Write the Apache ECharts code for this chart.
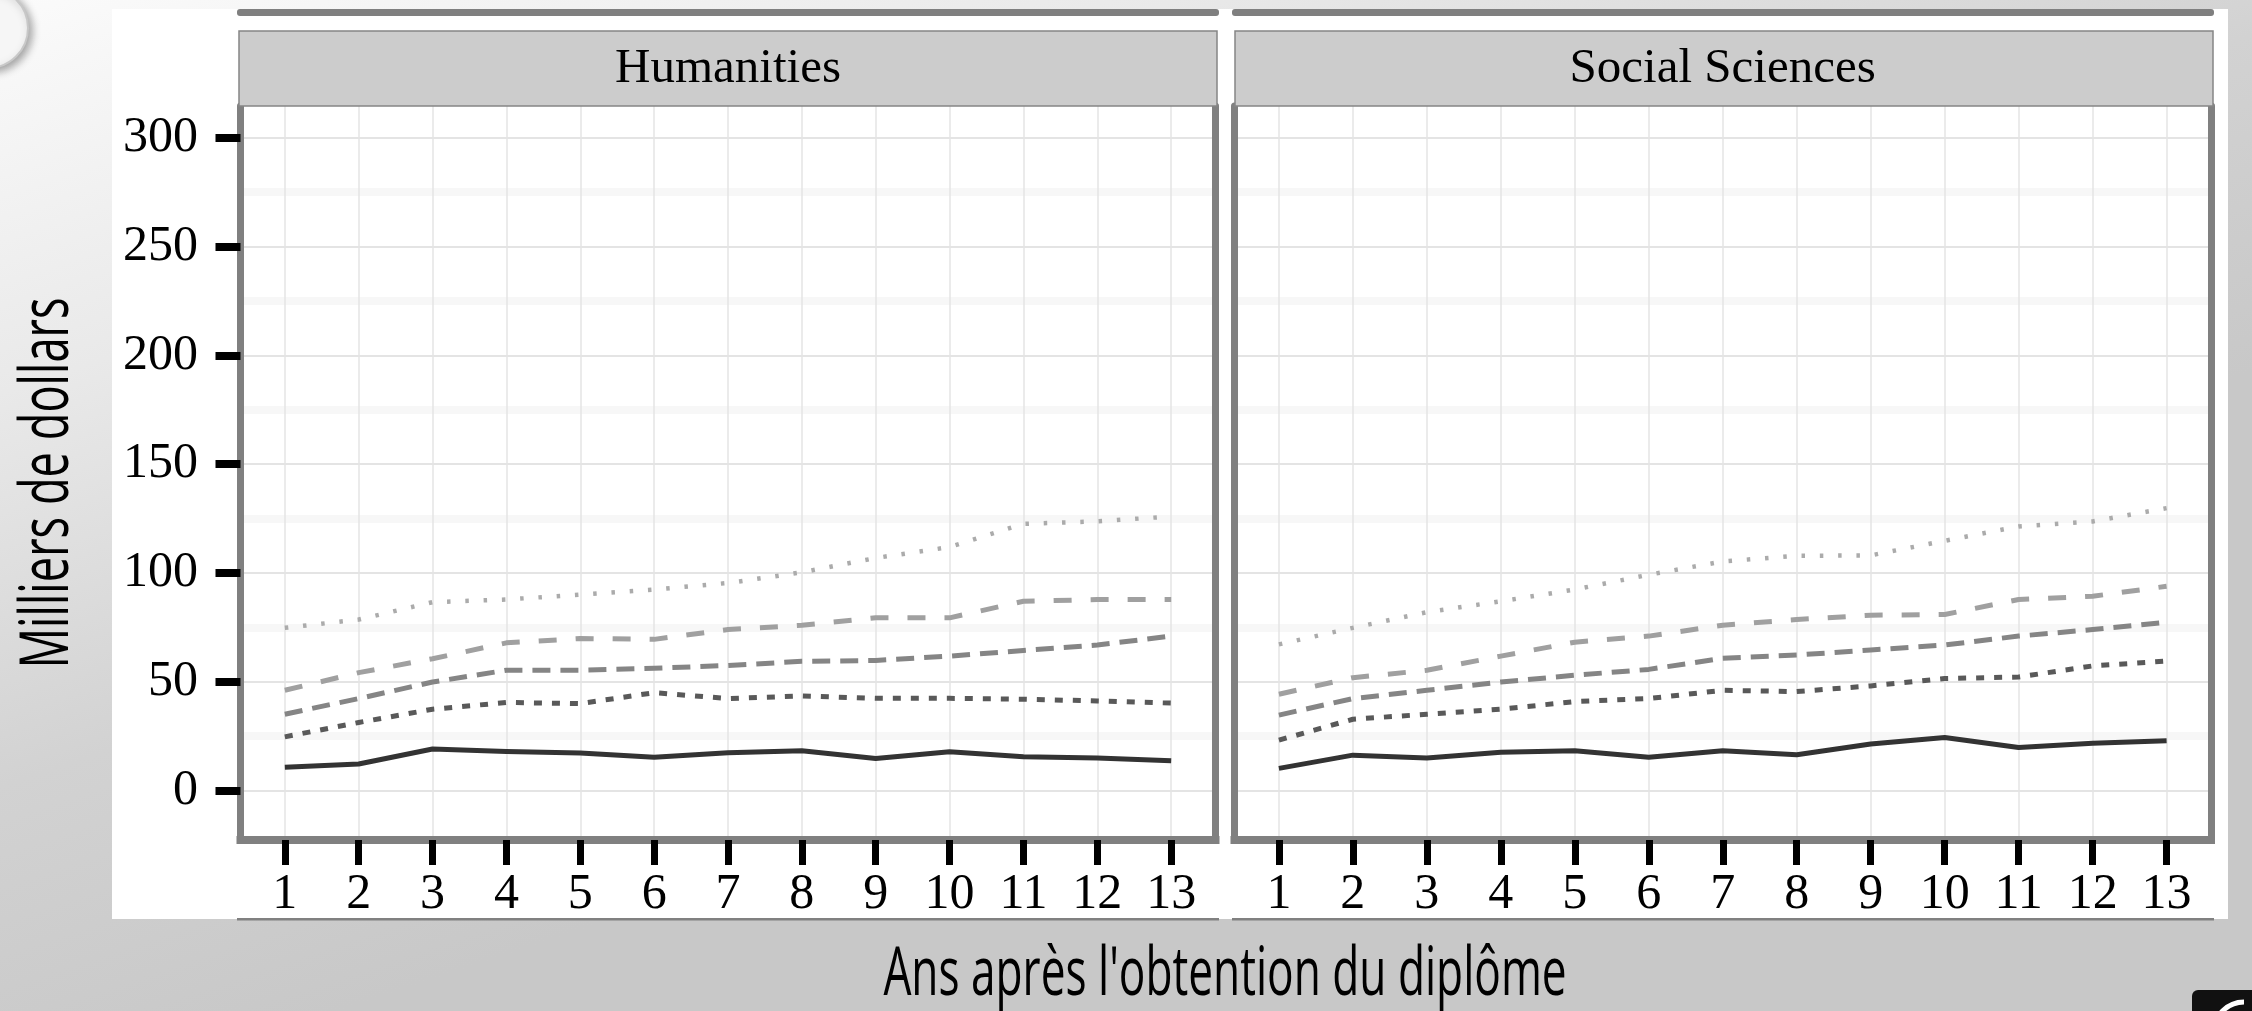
<!DOCTYPE html>
<html>
<head>
<meta charset="utf-8">
<script src="https://cdn.jsdelivr.net/npm/echarts@6/dist/echarts.min.js"></script>
<style>
html,body{margin:0;padding:0;width:2252px;height:1011px;overflow:hidden;}
#c{width:2252px;height:1011px;}
</style>
</head>
<body>
<div id="c"></div>
<script>
// ---- data ----
const years = [1,2,3,4,5,6,7,8,9,10,11,12,13];
const panels = ['Humanities', 'Social Sciences'];
const yTicks = [0,50,100,150,200,250,300];
const yMinor = [25,75,125,175,225,275];

const hum_p10 = [10.7, 12.2, 19.1, 18.0, 17.3, 15.3, 17.4, 18.3, 14.8, 17.9, 15.6, 15.0, 13.7];
const hum_p25 = [24.7, 31.3, 37.4, 40.5, 40.0, 45.0, 42.3, 43.5, 42.4, 42.4, 42.0, 41.2, 40.2];
const hum_p50 = [35.1, 42.3, 49.9, 55.3, 55.3, 56.2, 57.5, 59.4, 59.8, 61.8, 64.4, 66.9, 71.0];
const hum_p75 = [46.1, 54.2, 60.6, 67.9, 69.9, 69.5, 74.0, 76.0, 79.4, 79.4, 87.0, 87.8, 87.8];
const hum_p90 = [74.8, 78.6, 86.6, 87.8, 90.1, 92.4, 95.4, 100.3, 106.9, 111.9, 122.6, 123.7, 126.0];

const soc_p10 = [10.2, 16.3, 15.0, 17.6, 18.3, 15.3, 18.3, 16.5, 21.4, 24.4, 19.8, 21.8, 22.9];
const soc_p25 = [23.2, 32.8, 35.1, 37.4, 40.9, 42.3, 46.1, 45.5, 48.1, 51.5, 52.2, 57.3, 59.5];
const soc_p50 = [34.7, 42.3, 46.1, 49.9, 53.0, 55.7, 60.8, 62.3, 64.6, 66.9, 71.0, 74.0, 77.4];
const soc_p75 = [44.3, 51.9, 55.3, 61.8, 68.2, 71.0, 76.0, 78.6, 80.6, 80.9, 87.8, 89.3, 93.9];
const soc_p90 = [67.2, 74.8, 82.0, 87.0, 92.4, 99.2, 105.3, 107.9, 108.1, 114.8, 121.4, 123.7, 129.8];

const xTitle = "Ans après l'obtention du diplôme";
const yTitle = 'Milliers de dollars';

// ---- styles ----
const lineDefs = [
  {name:'p10', color:'#333333', type:'solid', width:5},
  {name:'p25', color:'#595959', type:[8,10], width:5},
  {name:'p50', color:'#858585', type:[18,10], width:5},
  {name:'p75', color:'#a0a0a0', type:[18,19], width:5},
  {name:'p90', color:'#ababab', type:[3.5,14.8], width:4.5}
];
const panelData = [
  [hum_p10, hum_p25, hum_p50, hum_p75, hum_p90],
  [soc_p10, soc_p25, soc_p50, soc_p75, soc_p90]
];

const Y_MIN = -22.7, Y_MAX = 314.6;
const serif = 'Liberation Serif';
const grids = [
  {left:240.5, right:1036.5, top:106, bottom:171, show:false},
  {left:1234.5, right:41, top:106, bottom:171, show:false}
];

function makeX(gi){
  return {
    type:'value', gridIndex:gi, min:0.4, max:13.6,
    axisLine:{show:true, onZero:false, lineStyle:{color:'#808080', width:8, cap:'square'}},
    axisTick:{show:true, customValues:years, length:25, inside:false, lineStyle:{color:'#000', width:7}},
    axisLabel:{show:true, customValues:years, margin:30, color:'#000', fontFamily:serif, fontSize:50},
    splitLine:{show:true, lineStyle:{color:'#e4e4e4', width:1.5}}
  };
}
function makeY(gi, pos, withLabels, minor){
  return {
    type:'value', gridIndex:gi, position:pos, min:Y_MIN, max:Y_MAX,
    axisLine:{show:true, onZero:false, lineStyle:{color:'#808080', width:7}},
    axisTick:{show:withLabels, customValues: minor ? yMinor : yTicks, length:25, inside:false, lineStyle:{color:'#000', width:8}},
    axisLabel:{show:withLabels, customValues:yTicks, margin:42.5, color:'#000', fontFamily:serif, fontSize:50},
    splitLine:{show:true, lineStyle: minor ? {color:'#f7f7f7', width:8} : {color:'#e4e4e4', width:2}}
  };
}

const series = [];
panelData.forEach((arrs, gi) => {
  arrs.forEach((vals, li) => {
    const d = lineDefs[li];
    series.push({
      type:'line', name:panels[gi] + ' ' + d.name,
      xAxisIndex:gi, yAxisIndex:gi*2,
      data: years.map((y, i) => [y, vals[i]]),
      symbol:'none', silent:true, animation:false,
      lineStyle:{color:d.color, width:d.width, type:d.type, cap:'butt', join:'round'},
      z: 3
    });
  });
});

const graphics = [
  // white plot background
  {type:'rect', z:-5, shape:{x:112, y:9, width:2116, height:910}, style:{fill:'#ffffff'}},
  // top bars
  {type:'rect', z:5, shape:{x:237, y:9, width:982, height:7, r:3}, style:{fill:'#7f7f7f'}},
  {type:'rect', z:5, shape:{x:1232, y:9, width:982, height:7, r:3}, style:{fill:'#7f7f7f'}},
  // bottom lines
  {type:'rect', z:5, shape:{x:237, y:918, width:982, height:2.5}, style:{fill:'#808080'}},
  {type:'rect', z:5, shape:{x:1232, y:918, width:982, height:2.5}, style:{fill:'#808080'}},
  // strips
  {type:'rect', z:5, shape:{x:239, y:31, width:978, height:75}, style:{fill:'#cccccc', stroke:'#858585', lineWidth:1.5}},
  {type:'rect', z:5, shape:{x:1235, y:31, width:978, height:75}, style:{fill:'#cccccc', stroke:'#858585', lineWidth:1.5}},
  {type:'text', z:6, x:728, y:69, style:{text:panels[0], fill:'#000', font:'49px "Liberation Serif"', textAlign:'center', textVerticalAlign:'middle'}},
  {type:'text', z:6, x:1722.7, y:69, style:{text:panels[1], fill:'#000', font:'49px "Liberation Serif"', textAlign:'center', textVerticalAlign:'middle'}},
  // axis titles
  {type:'text', z:6, x:1225, y:976, scaleX:0.65, style:{text:xTitle, fill:'#000', font:'68px "Open Sans"', textAlign:'center', textVerticalAlign:'middle'}},
  {type:'text', z:6, x:49, y:483, rotation:Math.PI/2, scaleX:0.665, style:{text:yTitle, fill:'#000', font:'68px "Open Sans"', textAlign:'center', textVerticalAlign:'middle'}},
  // decorative corner elements
  {type:'circle', z:4, shape:{cx:-12, cy:28, r:40}, style:{fill:'#f6f6f6', stroke:'#c8c8c8', lineWidth:2, shadowBlur:8, shadowColor:'rgba(0,0,0,0.35)', shadowOffsetX:3, shadowOffsetY:3}},
  {type:'rect', z:4, shape:{x:2192, y:990, width:70, height:40, r:6}, style:{fill:'#111111'}},
  {type:'arc', z:5, shape:{cx:2244, cy:1032, r:30, startAngle:Math.PI, endAngle:1.5*Math.PI}, style:{stroke:'#ffffff', lineWidth:5, fill:null}}
];

const option = {
  animation:false,
  backgroundColor:{type:'linear', x:0, y:0, x2:0.15, y2:1, colorStops:[
    {offset:0, color:'#fbfbfb'}, {offset:0.35, color:'#e9e9e9'}, {offset:0.7, color:'#d2d2d2'}, {offset:1, color:'#c8c8c8'}]},
  grid: grids,
  xAxis:[makeX(0), makeX(1)],
  yAxis:[makeY(0,'left',true,false), makeY(0,'right',false,true), makeY(1,'left',false,false), makeY(1,'right',false,true)],
  series: series,
  graphic:{elements:graphics}
};
const chart = echarts.init(document.getElementById('c'), null, {renderer:'canvas', width:2252, height:1011});
chart.setOption(option);
</script>
</body>
</html>
